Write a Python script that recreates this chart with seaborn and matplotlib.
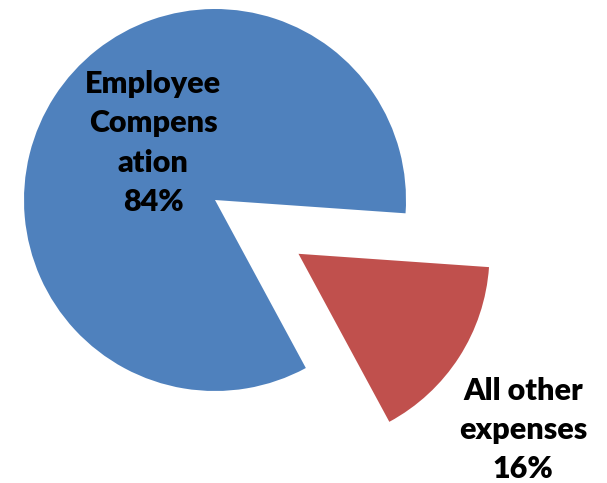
import matplotlib
matplotlib.use("Agg")
import matplotlib.pyplot as plt
import seaborn as sns

categories = ["Employee\nCompens\nation", "All other\nexpenses"]
shares = [84, 16]
colors = ["#4F81BD", "#C0504D"]
explode = [0.0, 0.52]

sns.set_theme(style="white")
plt.rcParams["font.family"] = ["Lato", "DejaVu Sans"]

W, H = 607, 483
cx, cy, R = 215, 200, 191
fig = plt.figure(figsize=(W / 100, H / 100), dpi=100)
ax = fig.add_axes([0, 0, 1, 1])
ax.pie(shares, colors=colors, explode=explode, startangle=-4,
       counterclock=True, wedgeprops=dict(linewidth=0))
ax.set_xlim(-cx / R, (W - cx) / R)
ax.set_ylim(-(H - cy) / R, cy / R)
ax.set_aspect("equal")
ax.axis("off")

label_pos = [((153 - cx) / R, (cy - 143) / R), ((523 - cx) / R, (cy - 430) / R)]
for cat, v, (x, y) in zip(categories, shares, label_pos):
    ax.text(x, y, f"{cat}\n{v}%", ha="center", va="center", fontsize=22,
            fontweight="heavy", color="black", linespacing=1.5)

fig.savefig("out.png", dpi=100, facecolor="white")
